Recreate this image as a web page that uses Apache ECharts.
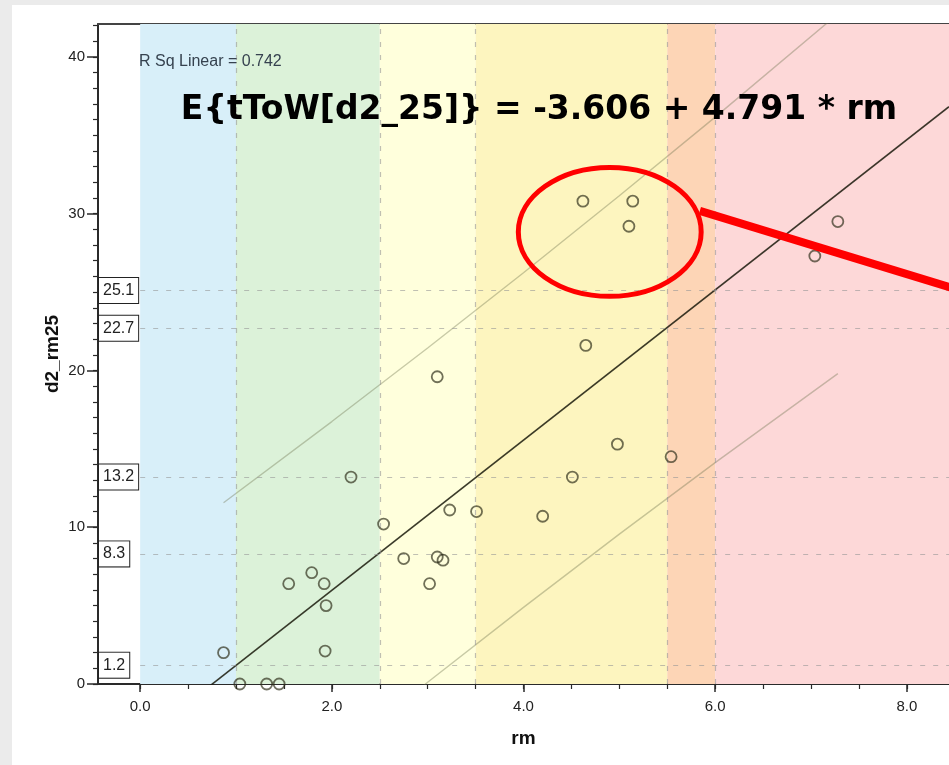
<!DOCTYPE html>
<html>
<head>
<meta charset="utf-8">
<script src="https://cdn.jsdelivr.net/npm/echarts@6/dist/echarts.min.js"></script>
<style>
  html, body { margin: 0; padding: 0; background: #ffffff; }
  #chart { width: 949px; height: 765px; }
</style>
</head>
<body>
<div id="chart"></div>
<script>
// ---- data -------------------------------------------------------------
// observed cases: rm (x) and d2_rm25 (y)
const rm = [0.87, 1.04, 1.32, 1.45, 1.55, 1.79, 1.92, 1.94, 1.93, 2.20,
            2.54, 2.75, 3.02, 3.10, 3.16, 3.10, 3.23, 3.51, 4.20, 4.51,
            4.65, 4.98, 4.62, 5.14, 5.10, 5.54, 7.04, 7.28];
const d2rm25 = [2.0, 0, 0, 0, 6.4, 7.1, 6.4, 5.0, 2.1, 13.2,
                10.2, 8.0, 6.4, 8.1, 7.9, 19.6, 11.1, 11.0, 10.7, 13.2,
                21.6, 15.3, 30.8, 30.8, 29.2, 14.5, 27.3, 29.5];

// linear fit
const intercept = -3.606;
const slope = 4.791;
const rSquared = 0.742;

// 95% individual prediction limits
const limitX     = [0.87, 2.0, 3.0, 4.0, 5.0, 6.0, 7.28];
const upperLimit = [11.56, 16.74, 21.43, 26.23, 31.14, 36.16, 42.74];
const lowerLimit = [-10.44, -4.78, 0.11, 4.89, 9.56, 14.12, 19.80];

// reference levels on d2_rm25 and rm zone boundaries
const cutLevels = [25.1, 22.7, 13.2, 8.3, 1.2];
const zoneEdges = [0, 1.0, 2.5, 3.5, 5.5, 6.0];

// axis ticks
const xMajorTicks = [0, 2, 4, 6, 8];
const xMinorTicks = [0, 0.5, 1, 1.5, 2, 2.5, 3, 3.5, 4, 4.5, 5, 5.5, 6, 6.5, 7, 7.5, 8];
const yMajorTicks = [0, 10, 20, 30, 40];
const yMinorTicks = [0, 1, 2, 3, 4, 5, 6, 7, 8, 9, 10, 11, 12, 13, 14, 15, 16, 17, 18, 19, 20,
                     21, 22, 23, 24, 25, 26, 27, 28, 29, 30, 31, 32, 33, 34, 35, 36, 37, 38, 39, 40, 41, 42];

// highlighted cluster (ellipse) and its pointer, in data units
const ringCenter = [4.90, 28.84];
const ringRadius = [0.954, 4.11];
const pointerFrom = [5.84, 30.18];
const pointerTo = [8.80, 24.65];

// ---- styles -----------------------------------------------------------
const X_MIN = -0.44, X_MAX = 8.44, Y_MIN = 0, Y_MAX = 42.1;
const zoneColors = ['#d8eff9', '#dcf2d9', '#ffffdc', '#fdf5bf', '#fdd5b6', '#fdd8d8'];
const AXIS_FONT = 'Arial, "Liberation Sans", sans-serif';
const axisColor = '#2a2a2a';

const scatterData = rm.map((x, i) => [x, d2rm25[i]]);
const fitData = [[X_MIN, intercept + slope * X_MIN], [X_MAX, intercept + slope * X_MAX]];
const upperData = limitX.map((x, i) => [x, upperLimit[i]]);
const lowerData = limitX.map((x, i) => [x, lowerLimit[i]]);

const zoneAreas = zoneEdges.map((start, i) => [
  { xAxis: start, itemStyle: { color: zoneColors[i] } },
  { xAxis: i + 1 < zoneEdges.length ? zoneEdges[i + 1] : X_MAX }
]);
const dashedLines = zoneEdges.slice(1).map(v => ({ xAxis: v }))
  .concat(cutLevels.map(v => [{ coord: [0, v] }, { coord: [X_MAX, v] }]));

const fmt1 = v => Number(v).toFixed(1);

function valueAxis(extra) {
  const base = {
    type: 'value',
    splitLine: { show: false },
    axisLine: { show: false, onZero: false },
    axisTick: { show: false },
    axisLabel: { show: false }
  };
  const out = Object.assign(base, extra);
  out.axisLine = Object.assign({ onZero: false }, out.axisLine);
  return out;
}

const chart = echarts.init(document.getElementById('chart'), null, { renderer: 'canvas' });

chart.setOption({
  backgroundColor: '#ffffff',
  animation: false,
  grid: { left: 98, right: 0, top: 24, bottom: 81, containLabel: false, outerBoundsMode: 'none' },
  xAxis: [
    valueAxis({
      min: X_MIN, max: X_MAX, position: 'bottom',
      axisLine: { show: true, onZero: false, lineStyle: { color: axisColor, width: 2 } },
      axisTick: { show: true, length: 8, customValues: xMajorTicks, lineStyle: { color: axisColor, width: 1.5 } },
      axisLabel: { show: true, customValues: xMajorTicks, formatter: fmt1, margin: 15,
                   fontSize: 15, color: '#222', fontFamily: AXIS_FONT },
      name: 'rm', nameLocation: 'middle', nameGap: 45, nameMoveOverlap: false,
      nameTextStyle: { fontSize: 19, fontWeight: 'bold', color: '#111', fontFamily: AXIS_FONT }
    }),
    valueAxis({
      min: X_MIN, max: X_MAX, position: 'bottom',
      axisTick: { show: true, length: 5, customValues: xMinorTicks, lineStyle: { color: axisColor, width: 1.2 } }
    }),
    valueAxis({
      min: X_MIN, max: X_MAX, position: 'top',
      axisLine: { show: true, onZero: false, lineStyle: { color: '#444', width: 2 } }
    })
  ],
  yAxis: [
    valueAxis({
      min: Y_MIN, max: Y_MAX, position: 'left',
      axisLine: { show: true, onZero: false, lineStyle: { color: axisColor, width: 2 } },
      axisTick: { show: true, length: 11, customValues: yMajorTicks, lineStyle: { color: axisColor, width: 1.5 } },
      axisLabel: { show: true, customValues: yMajorTicks, margin: 13,
                   fontSize: 15, color: '#222', fontFamily: AXIS_FONT },
      name: 'd2_rm25', nameLocation: 'middle', nameGap: 36, nameRotate: 90, nameMoveOverlap: false,
      nameTextStyle: { fontSize: 19, fontWeight: 'bold', color: '#111', fontFamily: AXIS_FONT }
    }),
    valueAxis({
      min: Y_MIN, max: Y_MAX, position: 'left',
      axisTick: { show: true, length: 5, customValues: yMinorTicks, lineStyle: { color: axisColor, width: 1.2 } }
    }),
    valueAxis({
      min: Y_MIN, max: Y_MAX, position: 'left',
      axisLabel: {
        show: true, inside: true, customValues: cutLevels, formatter: fmt1, margin: 1,
        fontSize: 16, color: '#222', fontFamily: AXIS_FONT,
        backgroundColor: '#ffffff', borderColor: '#222', borderWidth: 1, padding: [5, 4, 4, 4]
      }
    })
  ],
  graphic: [
    { type: 'rect', silent: true, shape: { x: 0, y: 0, width: 949, height: 5 }, style: { fill: '#ebebeb' } },
    { type: 'rect', silent: true, shape: { x: 0, y: 0, width: 12, height: 765 }, style: { fill: '#ebebeb' } },
    {
      type: 'text', silent: true, z: 100, x: 139, y: 62,
      style: { text: 'R Sq Linear = ' + rSquared, fontSize: 16, fill: '#36424f',
               fontFamily: AXIS_FONT, textAlign: 'left', textVerticalAlign: 'middle' }
    },
    {
      type: 'text', silent: true, z: 100, x: 539, y: 110,
      style: { text: 'E{tToW[d2_25]} = ' + intercept + ' + ' + slope + ' * rm',
               fontSize: 33, fontWeight: 'bold', fill: '#000',
               fontFamily: '"DejaVu Sans", Verdana, sans-serif',
               textAlign: 'center', textVerticalAlign: 'middle' }
    }
  ],
  series: [
    {
      // rm zones and reference grid
      type: 'line', data: [], z: 1, silent: true,
      markArea: { silent: true, data: zoneAreas },
      markLine: {
        silent: true, symbol: ['none', 'none'], label: { show: false },
        lineStyle: { color: 'rgba(150,150,150,0.6)', width: 1.2, type: [5, 8] },
        data: dashedLines
      }
    },
    {
      type: 'line', name: 'upper', data: upperData, z: 3, silent: true, clip: true,
      showSymbol: false, symbol: 'none',
      lineStyle: { color: 'rgba(110,115,80,0.38)', width: 1.4 }
    },
    {
      type: 'line', name: 'lower', data: lowerData, z: 3, silent: true, clip: true,
      showSymbol: false, symbol: 'none',
      lineStyle: { color: 'rgba(110,115,80,0.38)', width: 1.4 }
    },
    {
      type: 'line', name: 'fit', data: fitData, z: 4, silent: true, clip: true,
      showSymbol: false, symbol: 'none',
      lineStyle: { color: 'rgba(25,25,10,0.85)', width: 1.6 }
    },
    {
      type: 'scatter', name: 'cases', data: scatterData, z: 5, clip: false,
      symbol: 'circle', symbolSize: 11,
      itemStyle: { color: 'rgba(0,0,0,0)', borderColor: 'rgba(45,45,25,0.85)', borderWidth: 1.8 }
    },
    {
      type: 'custom', name: 'highlight', coordinateSystem: 'cartesian2d',
      z: 20, silent: true, clip: false,
      data: [ringCenter],
      renderItem: function (params, api) {
        const c = api.coord(ringCenter);
        const ex = api.coord([ringCenter[0] + ringRadius[0], ringCenter[1]]);
        const ey = api.coord([ringCenter[0], ringCenter[1] + ringRadius[1]]);
        const p1 = api.coord(pointerFrom);
        const p2 = api.coord(pointerTo);
        return {
          type: 'group',
          children: [
            { type: 'ellipse',
              shape: { cx: c[0], cy: c[1], rx: ex[0] - c[0], ry: c[1] - ey[1] },
              style: { fill: 'none', stroke: '#ff0000', lineWidth: 5 } },
            { type: 'line',
              shape: { x1: p1[0], y1: p1[1], x2: p2[0], y2: p2[1] },
              style: { stroke: '#ff0000', lineWidth: 8 } }
          ]
        };
      }
    }
  ]
});
</script>
</body>
</html>
